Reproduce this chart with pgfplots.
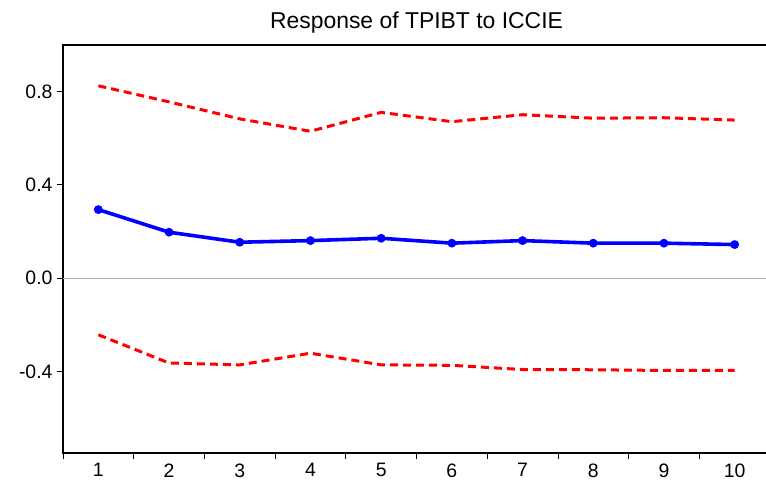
\documentclass[border=0pt]{standalone}
\usepackage{fontspec}
\setmainfont{Liberation Sans}
\usepackage{pgfplots}
\pgfplotsset{compat=1.18}
\definecolor{evblue}{RGB}{0,0,255}
\definecolor{evred}{RGB}{255,0,0}
\begin{document}
\begin{tikzpicture}[x=1bp,y=1bp]
\begin{axis}[
  at={(0,0)}, anchor=south west,
  scale only axis, width=707bp, height=408bp,
  xmin=0.5, xmax=10.5, ymin=-0.75, ymax=1.0,
  axis line style={line width=2.8bp},
  tick pos=left, tick align=outside,
  xtick={1,...,10},
  xticklabels={1,2,3,4,5,6,7,8,9,10},
  minor xtick={0.5,1.5,...,9.5},
  major x tick style={draw=none},
  minor x tick style={black, line width=0.8bp},
  minor tick length=6bp,
  ytick={-0.4,0,0.4,0.8},
  yticklabels={-0.4,0.0,0.4,0.8},
  major y tick style={black, line width=0.8bp},
  major tick length=6bp,
  ticklabel style={font=\fontsize{19.5}{21}\selectfont},
  xticklabel style={yshift=-1bp},
  yticklabel style={xshift=-1bp},
  title={Response of TPIBT to ICCIE},
  title style={font=\fontsize{23}{25}\selectfont, yshift=2bp},
  clip=false,
]
\addplot[gray!60, line width=0.8bp, forget plot] coordinates {(0.5,0) (10.5,0)};
\addplot[evred, line width=3bp, dash pattern=on 8bp off 5bp] coordinates {
(1,0.825) (2,0.756) (3,0.683) (4,0.630) (5,0.711) (6,0.671) (7,0.701) (8,0.686) (9,0.688) (10,0.678)};
\addplot[evred, line width=3bp, dash pattern=on 8bp off 5bp] coordinates {
(1,-0.243) (2,-0.364) (3,-0.372) (4,-0.322) (5,-0.372) (6,-0.374) (7,-0.392) (8,-0.393) (9,-0.396) (10,-0.396)};
\addplot[evblue, line width=3.6bp, mark=*, mark size=2.5bp, mark options={solid}] coordinates {
(1,0.294) (2,0.197) (3,0.154) (4,0.161) (5,0.171) (6,0.150) (7,0.161) (8,0.150) (9,0.150) (10,0.144)};
\end{axis}
\pgfresetboundingbox
\path (-63bp,-34bp) rectangle (703bp,453bp);
\end{tikzpicture}
\end{document}
